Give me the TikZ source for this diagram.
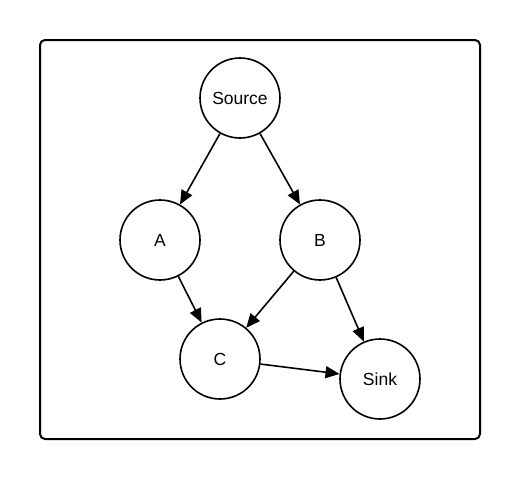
\documentclass[tikz,border=0pt]{standalone}
\usepackage{fontspec}
\setmainfont{Liberation Sans}
\usetikzlibrary{arrows.meta}
\begin{document}
\begin{tikzpicture}[x=1pt,y=-1pt,
  vertex/.style={circle,draw=black,line width=1.6pt,minimum size=80pt,inner sep=0pt,font=\fontsize{17.5}{19}\selectfont},
  edge/.style={line width=1.6pt,-{Triangle[length=14pt,width=12pt]}},
  frame/.style={draw=black,line width=2pt,rounded corners=5pt}]
\useasboundingbox (0,0) rectangle (520,480);
\draw[frame] (40,40) rectangle (480,439);
\node[vertex] (src) at (240,98) {Source};
\node[vertex] (a) at (160,240) {A};
\node[vertex] (b) at (320,240) {B};
\node[vertex] (c) at (220,359) {C};
\node[vertex] (sink) at (380,379) {Sink};
\draw[edge] (src) -- (a);
\draw[edge] (src) -- (b);
\draw[edge] (a) -- (c);
\draw[edge] (b) -- (c);
\draw[edge] (b) -- (sink);
\draw[edge] (c) -- (sink);
\end{tikzpicture}
\end{document}
